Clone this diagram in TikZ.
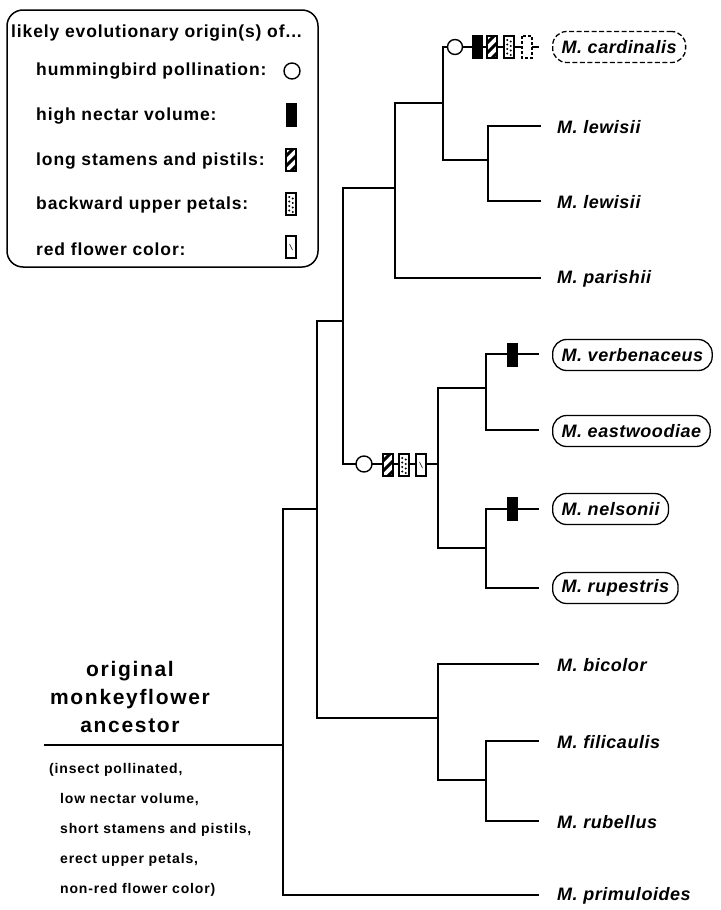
\documentclass[tikz,border=0pt]{standalone}
\usepackage{fontspec}
\setmainfont{Liberation Sans}
\newfontfamily\legfont[LetterSpace=5]{Liberation Sans}
\newfontfamily\spfont[LetterSpace=3]{Liberation Sans}
\newfontfamily\ancfont[LetterSpace=8]{Liberation Sans}
\newfontfamily\smallfont[LetterSpace=6]{Liberation Sans}
\begin{document}
\begin{tikzpicture}[x=1pt,y=-1pt]
\tikzset{
  branch/.style={line width=2pt, line cap=rect},
  mk/.style={line width=1.4pt, fill=white},
  leg/.style={anchor=west, inner sep=0pt, font=\legfont\bfseries\fontsize{17.5}{20}\selectfont},
  sp/.style={anchor=west, inner sep=0pt, font=\spfont\bfseries\itshape\fontsize{18}{20}\selectfont},
  spbox/.style={anchor=west, draw, line width=1.3pt, rounded corners=14pt, inner xsep=9pt, inner ysep=0pt, minimum height=31pt, font=\spfont\bfseries\itshape\fontsize{18}{20}\selectfont},
  small/.style={anchor=west, inner sep=0pt, font=\smallfont\bfseries\fontsize{14}{16}\selectfont},
  pics/hum/.style={code={\draw[mk] (0,0) circle (8);}},
  pics/hums/.style={code={\draw[mk] (0,0) circle (7.5);}},
  pics/nect/.style={code={\fill (-5.5,-12) rectangle (5.5,12);}},
  pics/stam/.style={code={
     \draw[mk] (-5,-11) rectangle (5,11);
     \begin{scope}\clip (-5,-11) rectangle (5,11);
       \foreach \o in {-9,1,11} \draw[line width=3pt] (-7,\o+7) -- (7,\o-7);
     \end{scope}
     \draw[line width=1.4pt] (-5,-11) rectangle (5,11);}},
  pics/petal/.style={code={
     \draw[mk] (-5,-11) rectangle (5,11);
     \foreach \yy in {-7,-2.5,2,6.5} {\fill (-1.8,\yy) circle (1.1); \fill (1.8,\yy+1.5) circle (1.1);}}},
  pics/red/.style={code={
     \draw[mk] (-5,-11) rectangle (5,11);
     \draw[line width=0.5pt] (-1.5,-3) -- (1.5,3);}},
  pics/redd/.style={code={
     \draw[mk, dash pattern=on 3pt off 2pt] (-5,-11) rectangle (5,11);}}
}
\useasboundingbox (0,0) rectangle (720,910);

% legend
\node[draw, line width=1.5pt, rounded corners=16pt, minimum width=311pt, minimum height=257pt, inner sep=0pt] (legend) at (162.5,138.5) {};
\node[leg] (legtitle) at (11,33) {likely evolutionary origin(s) of...};
\node[leg] (lg1) at (36,71) {hummingbird pollination:};
\node[leg] (lg2) at (36,116) {high nectar volume:};
\node[leg] (lg3) at (36,161) {long stamens and pistils:};
\node[leg] (lg4) at (36,205) {backward upper petals:};
\node[leg] (lg5) at (36,249) {red flower color:};
\pic (s1) at (292,71) {hum};
\pic (s2) at (291,115) {nect};
\pic (s3) at (291,160) {stam};
\pic (s4) at (291,204) {petal};
\pic (s5) at (291,247) {red};

% tree coordinates
\coordinate (root) at (45,745);
\coordinate (n1) at (283,745);
\coordinate (n2) at (317,509);
\coordinate (prim) at (538,895);
\coordinate (n3) at (343,321);
\coordinate (n4) at (438,718);
\coordinate (n6) at (395,188);
\coordinate (n9) at (438,464);
\coordinate (n7) at (443,103);
\coordinate (pari) at (540,278);
\coordinate (card) at (538,47);
\coordinate (n8) at (488,160);
\coordinate (lew1) at (540,126);
\coordinate (lew2) at (540,201);
\coordinate (n10) at (486,388);
\coordinate (verb) at (538,354);
\coordinate (east) at (538,430);
\coordinate (n11) at (486,548);
\coordinate (nels) at (538,509);
\coordinate (rup) at (538,588);
\coordinate (bic) at (538,664);
\coordinate (n5) at (486,780);
\coordinate (fil) at (538,741);
\coordinate (rub) at (538,821);

\draw[branch] (root) -- (n1);
\draw[branch] (n1) |- (n2);
\draw[branch] (n1) |- (prim);
\draw[branch] (n2) |- (n3);
\draw[branch] (n2) |- (n4);
\draw[branch] (n3) |- (n6);
\draw[branch] (n3) |- (n9);
\draw[branch] (n6) |- (n7);
\draw[branch] (n6) |- (pari);
\draw[branch] (n7) |- (card);
\draw[branch] (n7) |- (n8);
\draw[branch] (n8) |- (lew1);
\draw[branch] (n8) |- (lew2);
\draw[branch] (n9) |- (n10);
\draw[branch] (n9) |- (n11);
\draw[branch] (n10) |- (verb);
\draw[branch] (n10) |- (east);
\draw[branch] (n11) |- (nels);
\draw[branch] (n11) |- (rup);
\draw[branch] (n4) |- (bic);
\draw[branch] (n4) |- (n5);
\draw[branch] (n5) |- (fil);
\draw[branch] (n5) |- (rub);

% markers on branches
\pic (c1) at (455,47) {hums};
\pic (c2) at (477,47) {nect};
\pic (c3) at (492,47) {stam};
\pic (c4) at (509,47) {petal};
\pic (c5) at (527,47) {redd};
\pic (m1) at (364,464) {hum};
\pic (m2) at (388,465) {stam};
\pic (m3) at (404,465) {petal};
\pic (m4) at (421,465) {red};
\pic (v1) at (512,355) {nect};
\pic (v2) at (512,509) {nect};

% species labels
\node[spbox, dash pattern=on 5pt off 2.5pt] (Lcard) at (552,47) {M. cardinalis};
\node[sp] (Llew1) at (557,127) {M. lewisii};
\node[sp] (Llew2) at (557,202) {M. lewisii};
\node[sp] (Lpari) at (557,279) {M. parishii};
\node[spbox] (Lverb) at (552,355) {M. verbenaceus};
\node[spbox] (Least) at (552,431) {M. eastwoodiae};
\node[spbox] (Lnels) at (552,509) {M. nelsonii};
\node[spbox] (Lrup) at (552,588) {M. rupestris};
\node[sp] (Lbic) at (557,665) {M. bicolor};
\node[sp] (Lfil) at (557,742) {M. filicaulis};
\node[sp] (Lrub) at (557,822) {M. rubellus};
\node[sp] (Lprim) at (557,896) {M. primuloides};

% ancestor
\node[align=center, inner sep=0pt, font=\ancfont\bfseries\fontsize{21}{28}\selectfont] (anc) at (130,697) {original\\monkeyflower\\ancestor};
\node[small] (a1) at (49,770) {(insect pollinated,};
\node[small] (a2) at (60,800) {low nectar volume,};
\node[small] (a3) at (60,830) {short stamens and pistils,};
\node[small] (a4) at (60,860) {erect upper petals,};
\node[small] (a5) at (60,890) {non-red flower color)};
\end{tikzpicture}
\end{document}
